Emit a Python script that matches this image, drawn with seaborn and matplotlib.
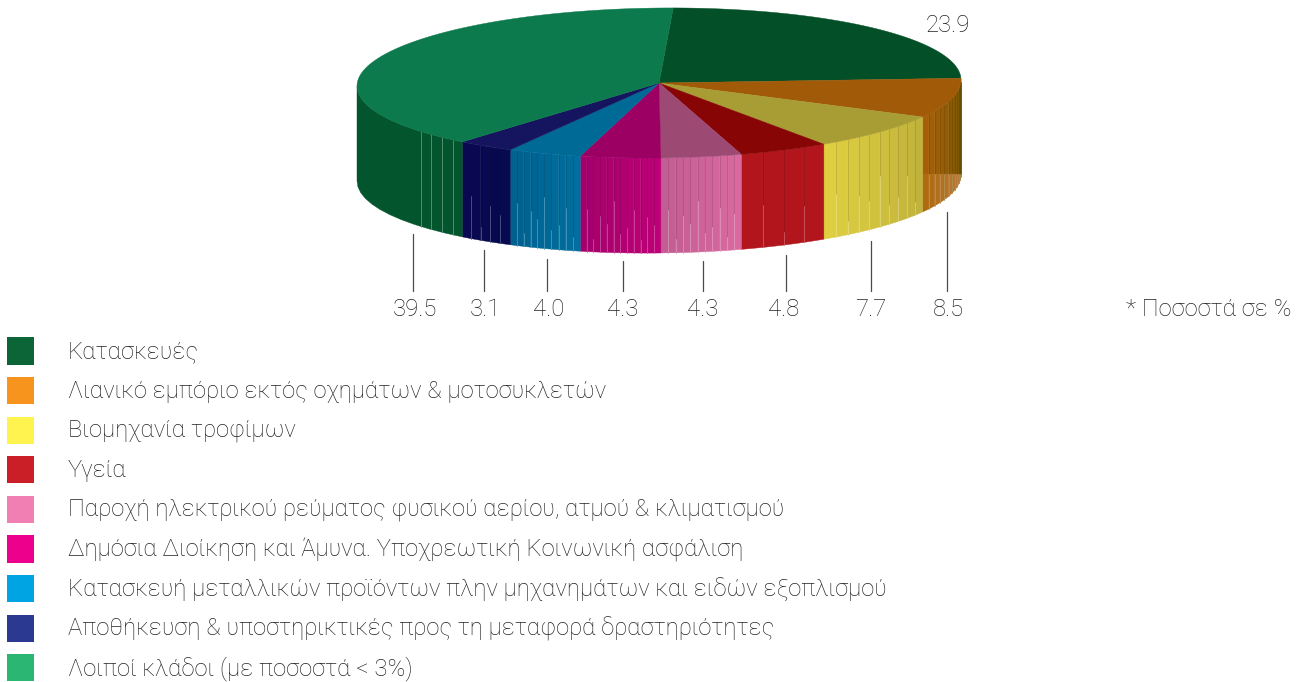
import numpy as np
import pandas as pd
import matplotlib
matplotlib.use("Agg")
import matplotlib.pyplot as plt
import seaborn as sns

# ==============================
# Data
# ==============================

# clockwise from the top of the pie
slice_values = [23.9, 8.5, 7.7, 4.8, 4.3, 4.3, 4.0, 3.1, 39.5]
legend_labels = [
    "Κατασκευές",
    "Λιανικό εμπόριο εκτός οχημάτων & μοτοσυκλετών",
    "Βιομηχανία τροφίμων",
    "Υγεία",
    "Παροχή ηλεκτρικού ρεύματος φυσικού αερίου, ατμού & κλιματισμού",
    "Δημόσια Διοίκηση και Άμυνα. Υποχρεωτική Κοινωνική ασφάλιση",
    "Κατασκευή μεταλλικών προϊόντων πλην μηχανημάτων και ειδών εξοπλισμού",
    "Αποθήκευση & υποστηρικτικές προς τη μεταφορά δραστηριότητες",
    "Λοιποί κλάδοι (με ποσοστά < 3%)",
]
legend_colors = ["#0b6536", "#f7941d", "#fff34f", "#cb1f27", "#f27fb3",
                 "#ec008c", "#00a4e2", "#2b3990", "#2bb673"]
top_colors = ["#024f28", "#a05a08", "#a89c34", "#880506", "#9c4a74",
              "#9c0062", "#006a96", "#14155e", "#0c7a4c"]
# side colours, left end and right end of every slice
side_left = ["#024f28", "#a85f08", "#e0d040", "#b2151c", "#c25c92",
             "#a3006a", "#00608e", "#0a0850", "#03552d"]
side_right = ["#024f28", "#6c5500", "#bfb03c", "#b2151c", "#da6aa0",
              "#be0078", "#006f9f", "#060a50", "#03602f"]
side_strips = [1, 12, 10, 4, 11, 12, 10, 5, 1]
footnote = "* Ποσοστά σε %"

# ==============================
# Setup
# ==============================

sns.set_theme(style="white")
plt.rcParams["font.family"] = ["Roboto", "DejaVu Sans"]
plt.rcParams["font.weight"] = "light"
text_col = "#222222"
font_size = 17.2

fig = plt.figure(figsize=(13.04, 6.82), dpi=100)
ax = fig.add_axes([0, 0, 1, 1])
ax.set_xlim(0, 1304)
ax.set_ylim(682, 0)
ax.axis("off")

cx, cy, rx, ry, depth = 659, 83, 302, 75, 95
start_angle = 87.3
tilt = 0.01
orange_split = 174


def ell(t):
    r = np.radians(t)
    x = cx + rx * np.cos(r)
    return x, cy - ry * np.sin(r) - tilt * (x - cx)


def lerp(c0, c1, f):
    a, b = np.array(matplotlib.colors.to_rgb(c0)), np.array(matplotlib.colors.to_rgb(c1))
    return tuple(a + (b - a) * f)


def band(t0, t1, col, split=None, lower=False):
    # one piece of the rim between two angles, split cuts it at a fixed height
    ts = np.linspace(t0, t1, 12)
    x, y = ell(ts)
    y0, y1 = y, y + depth
    if split is not None:
        y0, y1 = (np.full_like(y, split), y + depth) if lower else (y, np.full_like(y, split))
    ax.fill(np.r_[x, x[::-1]], np.r_[y0, y1[::-1]], color=col, lw=0.3, zorder=2)


# slice edges, going clockwise means falling angles
shares = np.array(slice_values) / sum(slice_values) * 360
edges = start_angle - np.r_[0, np.cumsum(shares)]

# ==============================
# Rim
# ==============================

line_cycle = [0.74, 0.55, 0.86, 0.62, 0.70, 0.46, 0.80]
for i in range(1, len(slice_values)):
    hi, lo = edges[i], edges[i + 1]
    if i == len(slice_values) - 1:
        # big green slice, front part only
        band(-180, hi, side_left[i])
        for k in range(1, 5):
            t = hi - k * 3.0 + 0.6
            x, y = ell(t)
            ax.plot([x, x], [y, y + depth], color="#5f9579", lw=0.6, zorder=3)
        continue
    n = side_strips[i]
    ts = np.linspace(lo, hi, n + 1)
    for k in range(n):
        f = (k + 0.5) / n
        if i == 1:
            # orange slice has a darker upper part and a lighter lower part
            band(ts[k], ts[k + 1], lerp(side_left[i], side_right[i], f), orange_split)
            band(ts[k], ts[k + 1], lerp("#b06a0e", "#b8834f", f), orange_split, True)
        else:
            band(ts[k], ts[k + 1], lerp(side_left[i], side_right[i], f))
    for k in range(1, n):
        x, y = ell(ts[k])
        base = lerp(side_left[i], side_right[i], k / n)
        frac = line_cycle[k % len(line_cycle)]
        ymid = orange_split if i == 1 else y + depth * frac
        ax.plot([x, x], [y, ymid], color=lerp(base, "#000000", 0.14), lw=0.6, zorder=3)
        ax.plot([x, x], [ymid, y + depth], color=lerp(base, "#ffffff", 0.3), lw=0.6, zorder=3)

# ==============================
# Top face
# ==============================

for i, col in enumerate(top_colors):
    ts = np.linspace(edges[i], edges[i + 1], 90)
    x, y = ell(ts)
    ax.fill(np.r_[cx, x], np.r_[cy, y], color=col, lw=0.3, zorder=4)

# ==============================
# Value labels and leader lines
# ==============================

value_text = ["%.1f" % v for v in slice_values]
ax.text(948, 26, value_text[0], ha="center", va="center", fontsize=font_size, color=text_col)

leader_x = [947, 871, 786, 703, 623, 547, 484, 413]
leader_top = [212, 241, 255, 261, 261, 259, 250, 234]
label_x = [948, 871, 784, 703, 623, 549, 485, 415]
for lx, ly, tx, val in zip(leader_x, leader_top, label_x, value_text[1:]):
    ax.plot([lx, lx], [ly, 291], color="#4a4a4a", lw=0.9, zorder=1)
    ax.text(tx, 309, val, ha="center", va="center", fontsize=font_size, color=text_col)

ax.text(1291, 309, footnote, ha="right", va="center", fontsize=font_size, color=text_col)

# ==============================
# Legend
# ==============================

legend_df = pd.DataFrame({
    "label": legend_labels,
    "row": 351 + 39.6 * np.arange(len(legend_labels)),
})
legend_df["x"] = 20.5
sns.scatterplot(data=legend_df, x="x", y="row", hue="label", palette=legend_colors,
                marker="s", s=378, linewidth=0, legend=False, ax=ax, clip_on=False)
ax.set_xlim(0, 1304)
ax.set_ylim(682, 0)
ax.axis("off")
for row, label in zip(legend_df["row"], legend_labels):
    ax.text(68, row + 0.5, label, ha="left", va="center", fontsize=font_size, color=text_col)

plt.savefig("out.png", dpi=100)
plt.close()
